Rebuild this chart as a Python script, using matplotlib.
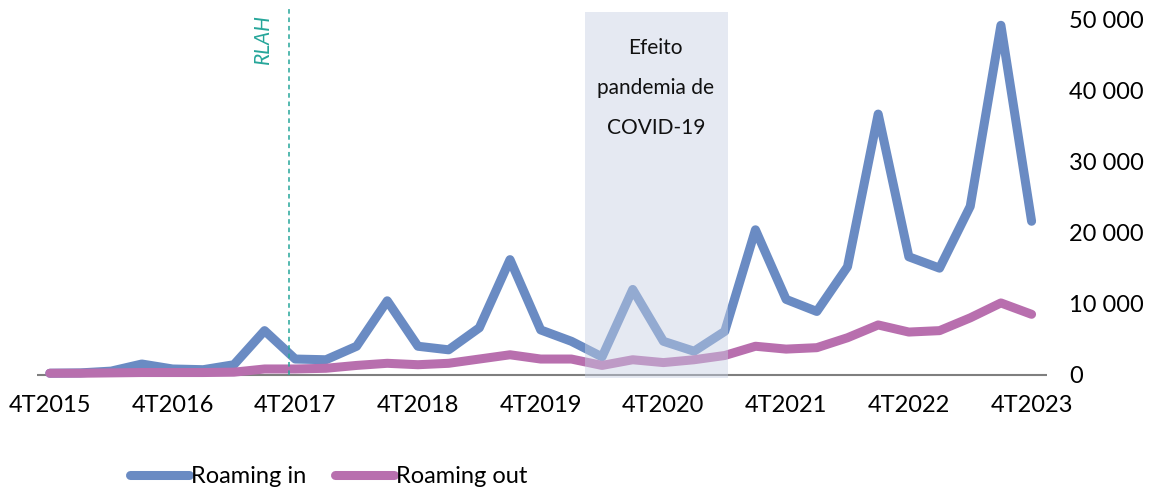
import matplotlib.pyplot as plt

plt.rcParams['font.family'] = ['Lato', 'DejaVu Sans']

# trimestres 4T2015 .. 4T2023
quarters = ['1T', '2T', '3T', '4T']
periods = ['4T2015'] + [f'{q}{y}' for y in range(2016, 2024) for q in quarters]

roaming_in = [200, 250, 500, 1500, 800, 700, 1400, 6200, 2200, 2100, 4000, 10400,
              4000, 3500, 6600, 16200, 6300, 4700, 2500, 12000, 4700, 3300, 6100, 20400,
              10600, 8900, 15200, 36700, 16600, 15000, 23700, 49200, 21600]
roaming_out = [200, 200, 250, 300, 300, 300, 350, 800, 800, 900, 1300, 1600,
               1400, 1600, 2200, 2800, 2200, 2200, 1300, 2100, 1700, 2100, 2700, 4000,
               3600, 3800, 5200, 7000, 6000, 6200, 8000, 10100, 8500]

yticks = [0, 10000, 20000, 30000, 40000, 50000]

blue = '#6A8BC3'
magenta = '#B86FAE'
teal = '#26A69A'

fig = plt.figure(figsize=(11.53, 4.92), dpi=100)
ax = fig.add_axes([0.032, 0.232, 0.876, 0.744])

x = list(range(len(periods)))
ax.plot(x, roaming_in, color=blue, lw=6.5, label='Roaming in', solid_capstyle='round')
ax.plot(x, roaming_out, color=magenta, lw=6.5, label='Roaming out', solid_capstyle='round')

# periodo da pandemia sombreado por cima das linhas
ax.axvspan(17.45, 22.1, color='#C7D0E4', alpha=0.45, lw=0, zorder=5)
ax.text(19.75, 40400, 'Efeito\npandemia de\nCOVID-19', ha='center', va='center',
        fontsize=15, linespacing=2.25, color='#111111', zorder=6)

# entrada em vigor do RLAH
ax.plot([7.8, 7.8], [0, 51700], ls=(0, (3, 2.5)), color=teal, lw=1.1, clip_on=False)
ax.text(6.95, 47300, 'RLAH', rotation=90, style='italic', color=teal, fontsize=15,
        ha='center', va='center')

ax.axhline(0, color='#7F7F7F', lw=1.5, zorder=1)

ax.set_xlim(-0.42, 32.5)
ax.set_ylim(-450, 51100)
ax.set_xticks(x[::4])
ax.set_xticklabels(periods[::4], fontsize=17)
ax.yaxis.tick_right()
ax.set_yticks(yticks)
ax.set_yticklabels([f'{v:,}'.replace(',', ' ') for v in yticks], fontsize=17)
ax.tick_params(axis='both', length=0)
ax.tick_params(axis='x', pad=12)
ax.tick_params(axis='y', pad=16)
for s in ax.spines.values():
    s.set_visible(False)

fig.legend(loc='center', bbox_to_anchor=(0.285, 0.031), ncol=2, frameon=False,
           fontsize=17, handlelength=2.5, handletextpad=0.1, columnspacing=1.2)

fig.savefig('out.png', dpi=100)
